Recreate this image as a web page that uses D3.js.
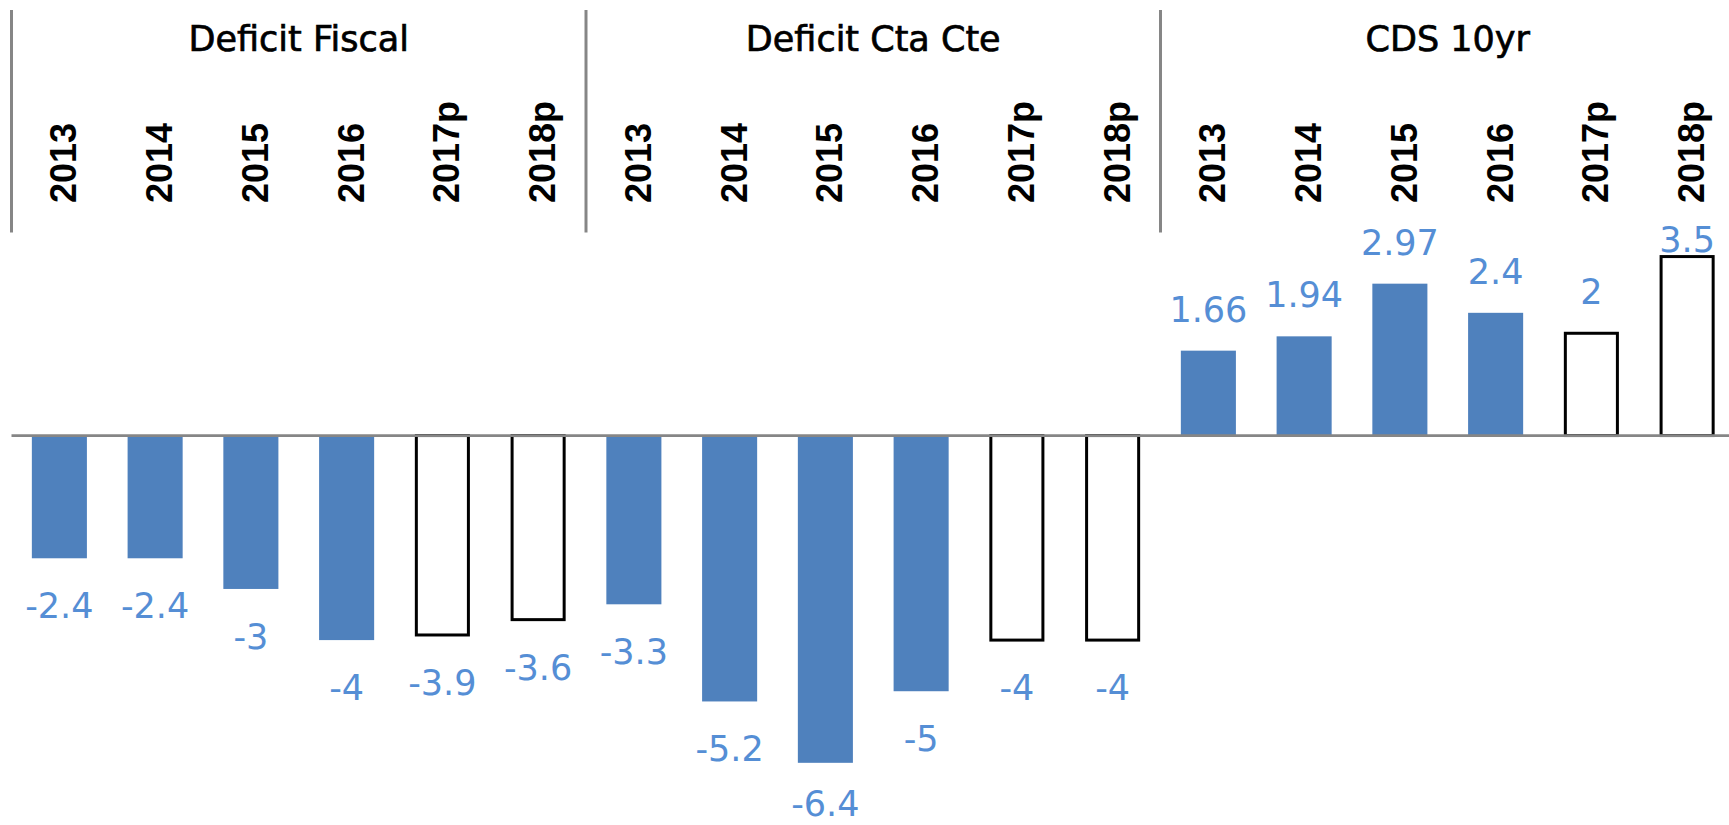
<!DOCTYPE html>
<html>
<head>
<meta charset="utf-8">
<script src="https://cdn.jsdelivr.net/npm/d3@7"></script>
<style>
  html, body { margin: 0; padding: 0; background: #ffffff; }
  svg { display: block; }
</style>
</head>
<body>
<svg id="chart" width="1729" height="825"></svg>
<script>
// Indicator groups and their yearly values (p = projection)
const groups = ["Deficit Fiscal", "Deficit Cta Cte", "CDS 10yr"];
const years = ["2013", "2014", "2015", "2016", "2017p", "2018p"];
const deficitFiscal = [-2.4, -2.4, -3, -4, -3.9, -3.6];
const deficitCtaCte = [-3.3, -5.2, -6.4, -5, -4, -4];
const cds10yr = [1.66, 1.94, 2.97, 2.4, 2, 3.5];
const seriesByGroup = [deficitFiscal, deficitCtaCte, cds10yr];

const rows = [];
groups.forEach((g, gi) => {
  years.forEach((yr, yi) => {
    rows.push({
      key: g + "|" + yr,
      group: g,
      year: yr,
      value: seriesByGroup[gi][yi],
      projected: yr.endsWith("p")
    });
  });
});

const svg = d3.select("#chart");
const W = 1729, H = 825;

const plotLeft = 11.5;
const band = 95.75;
const x = d3.scaleBand()
  .domain(rows.map(d => d.key))
  .range([plotLeft, plotLeft + band * rows.length])
  .padding(0);

const y = d3.scaleLinear()
  .domain([-7, 4])
  .range([793.5, 231]);

const barW = x.bandwidth() * 0.575;
const cx = d => x(d.key) + x.bandwidth() / 2;

const blue = "#4F81BD";
const labelBlue = "#558ED5";
const axisGray = "#868686";

// Bars: actual values filled, projections outlined
const bars = svg.append("g");
bars.selectAll("rect.actual")
  .data(rows.filter(d => !d.projected))
  .join("rect")
  .attr("class", "actual")
  .attr("x", d => cx(d) - barW / 2)
  .attr("width", barW)
  .attr("y", d => Math.min(y(d.value), y(0)))
  .attr("height", d => Math.abs(y(d.value) - y(0)))
  .attr("fill", blue);

const sw = 3;
bars.selectAll("rect.proj")
  .data(rows.filter(d => d.projected))
  .join("rect")
  .attr("class", "proj")
  .attr("x", d => cx(d) - barW / 2 + 1.5)
  .attr("width", barW - 3)
  .attr("y", d => Math.min(y(d.value), y(0)))
  .attr("height", d => Math.abs(y(d.value) - y(0)))
  .attr("fill", "#ffffff")
  .attr("stroke", "#000000")
  .attr("stroke-width", sw);

// Zero baseline
svg.append("line")
  .attr("x1", x.range()[0])
  .attr("x2", x.range()[1])
  .attr("y1", y(0))
  .attr("y2", y(0))
  .attr("stroke", axisGray)
  .attr("stroke-width", 2.7);

// Group separators of the category axis (placed at the top)
const sepTop = 10;
const sepBottom = y(4) + 1.5;
const seps = d3.range(groups.length + 1).map(i => x.range()[0] + i * years.length * x.step());
svg.append("g").selectAll("line")
  .data(seps)
  .join("line")
  .attr("x1", d => d).attr("x2", d => d)
  .attr("y1", sepTop).attr("y2", sepBottom)
  .attr("stroke", axisGray)
  .attr("stroke-width", 3);

// Group titles
svg.append("g").selectAll("text")
  .data(groups)
  .join("text")
  .attr("x", (g, i) => x.range()[0] + (i + 0.5) * years.length * x.step())
  .attr("y", 50.7)
  .attr("text-anchor", "middle")
  .attr("font-family", "'DejaVu Sans', Verdana, sans-serif")
  .attr("font-size", 35)
  .attr("fill", "#000000")
  .attr("stroke", "#000000")
  .attr("stroke-width", 0.7)
  .text(g => g);

// Rotated year labels
svg.append("g").selectAll("text")
  .data(rows)
  .join("text")
  .attr("transform", d => `translate(${cx(d) + 17},203) rotate(-90)`)
  .attr("text-anchor", "start")
  .attr("font-family", "'Liberation Sans', Arial, sans-serif")
  .attr("font-weight", "bold")
  .attr("font-size", 36)
  .attr("fill", "#000000")
  .text(d => d.year);

// Value labels outside the bar ends, kept inside the chart area
const topLimit = y(4) + 21;
const bottomLimit = H - 9;
svg.append("g").selectAll("text")
  .data(rows)
  .join("text")
  .attr("x", d => cx(d))
  .attr("y", d => d.value >= 0
    ? Math.max(y(d.value) - 29, topLimit)
    : Math.min(y(d.value) + 60, bottomLimit))
  .attr("text-anchor", "middle")
  .attr("font-family", "'DejaVu Sans', Verdana, sans-serif")
  .attr("font-size", 35)
  .attr("fill", labelBlue)
  .text(d => String(d.value));
</script>
</body>
</html>
